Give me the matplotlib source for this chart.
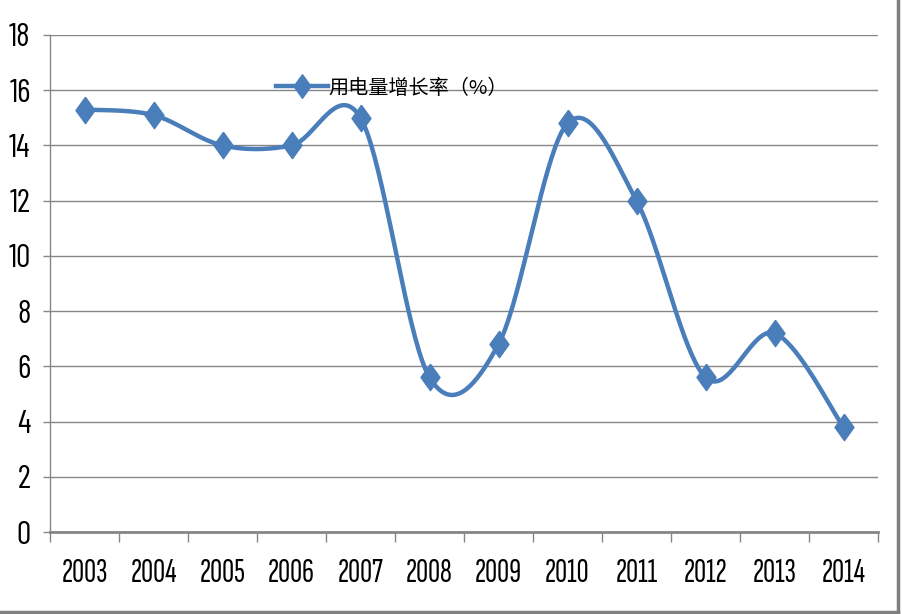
import numpy as np
import matplotlib.pyplot as plt
from matplotlib.lines import Line2D
from matplotlib.ticker import FixedLocator

years = ['2003', '2004', '2005', '2006', '2007', '2008',
         '2009', '2010', '2011', '2012', '2013', '2014']
growth = [15.3, 15.1, 14.0, 14.0, 15.0, 5.6, 6.8, 14.8, 12.0, 5.6, 7.2, 3.8]
series_name = '用电量增长率（%）'
y_ticks = [0, 2, 4, 6, 8, 10, 12, 14, 16, 18]

blue = '#4A7EBB'
grey = '#868686'
num_font = ['Sofia Sans Extra Condensed', 'Carlito', 'Liberation Sans']
ytick_font = ['Barlow Condensed', 'Carlito', 'Liberation Sans']


def smooth(xs, ys, n=40):
    # excel style smoothing: cubic bezier with catmull-rom control points
    px = np.asarray(xs, float)
    py = np.asarray(ys, float)
    out_x, out_y = [], []
    t = np.linspace(0, 1, n)
    for i in range(len(px) - 1):
        i0 = max(i - 1, 0)
        i3 = min(i + 2, len(px) - 1)
        p0 = np.array([px[i], py[i]])
        p3 = np.array([px[i + 1], py[i + 1]])
        c1 = p0 + (p3 - np.array([px[i0], py[i0]])) / 6
        c2 = p3 - (np.array([px[i3], py[i3]]) - p0) / 6
        b = ((1 - t) ** 3)[:, None] * p0 + (3 * (1 - t) ** 2 * t)[:, None] * c1 \
            + (3 * (1 - t) * t ** 2)[:, None] * c2 + (t ** 3)[:, None] * p3
        out_x.extend(b[:, 0])
        out_y.extend(b[:, 1])
    return out_x, out_y


fig = plt.figure(figsize=(9.02, 6.14), dpi=100)
ax = fig.add_axes([50 / 902, 82 / 614, 828 / 902, 497 / 614])

x = np.arange(len(years))
sx, sy = smooth(x, growth)
diamond = [(0, 1), (0.72, 0), (0, -1), (-0.72, 0), (0, 1)]
ax.plot(sx, sy, color=blue, lw=3.2, solid_capstyle='round', zorder=3)
ax.plot(x, growth, ls='none', marker=diamond, ms=19, color=blue, zorder=4)

ax.set_xlim(-0.5, len(years) - 0.5)
ax.set_ylim(0, 18)
ax.set_yticks(y_ticks)
ax.set_yticklabels([str(v) for v in y_ticks], family=ytick_font, fontsize=23)
ax.set_xticks(x)
ax.set_xticklabels(years, family=num_font, fontsize=24)
ax.xaxis.set_minor_locator(FixedLocator(np.arange(-0.5, len(years), 1)))
ax.tick_params(axis='x', which='major', length=0, pad=19)
ax.tick_params(axis='x', which='minor', length=7, width=1, color=grey, direction='out')
ax.tick_params(axis='y', length=5, width=1, color=grey, direction='out', pad=9)
ax.grid(axis='y', color=grey, lw=1)
ax.set_axisbelow(True)
for s in ['top', 'right']:
    ax.spines[s].set_visible(False)
for s in ['left', 'bottom']:
    ax.spines[s].set_color(grey)
    ax.spines[s].set_linewidth(1)
ax.spines['bottom'].set_linewidth(2)
ax.spines['bottom'].set_zorder(2.5)

handle = Line2D([], [], color=blue, lw=3.2, marker=diamond, ms=17)
fig.legend([handle], [series_name], loc='center left',
           bbox_to_anchor=(266 / 902, 1 - 88 / 614), frameon=False,
           borderpad=0, handlelength=2.6, handletextpad=0.0,
           prop={'family': ['Noto Sans CJK SC', 'DejaVu Sans'], 'size': 14.5})

# outer border (right and bottom visible in the source)
fig.add_artist(Line2D([898 / 902, 898 / 902], [2 / 614, 1], color='#7f7f7f', lw=2.5,
                      transform=fig.transFigure))
fig.add_artist(Line2D([0, 898 / 902], [2 / 614, 2 / 614], color='#7f7f7f', lw=2.5,
                      transform=fig.transFigure))

fig.savefig('out.png', dpi=100)
